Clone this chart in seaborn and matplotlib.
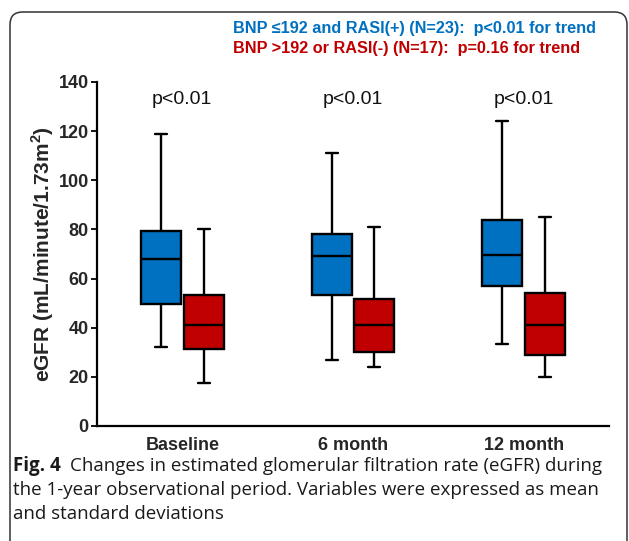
import numpy as np
import pandas as pd
import matplotlib
matplotlib.use("Agg")
import matplotlib.pyplot as plt
from matplotlib.patches import FancyBboxPatch
import seaborn as sns

# ---- data ----
timepoints = ["Baseline", "6 month", "12 month"]
groups = ["BNP \u2264192 and RASI(+)", "BNP >192 or RASI(-)"]
legend_lines = ["BNP \u2264192 and RASI(+) (N=23):  p<0.01 for trend",
                "BNP >192 or RASI(-) (N=17):  p=0.16 for trend"]
p_labels = ["p<0.01", "p<0.01", "p<0.01"]

blue_min = [32.0, 27.0, 33.5]
blue_q1 = [49.5, 53.5, 57.0]
blue_med = [68.0, 69.0, 69.5]
blue_q3 = [79.5, 78.0, 84.0]
blue_max = [119.0, 111.0, 124.0]

red_min = [17.5, 24.0, 20.0]
red_q1 = [31.5, 30.0, 29.0]
red_med = [41.0, 41.0, 41.0]
red_q3 = [53.5, 51.5, 54.0]
red_max = [80.0, 81.0, 85.0]

yticks = [0, 20, 40, 60, 80, 100, 120, 140]
ylabel = "eGFR (mL/minute/1.73m$^\\mathregular{2}$)"
caption_bold = "Fig. 4"
caption_lines = ["Changes in estimated glomerular filtration rate (eGFR) during",
                 "the 1-year observational period. Variables were expressed as mean",
                 "and standard deviations"]

colors = ["#0070C0", "#C00000"]

# ---- build long table: 5 summary points per box reproduce the quartiles exactly ----
rows = []
for gi, (mn, q1, md, q3, mx) in enumerate([(blue_min, blue_q1, blue_med, blue_q3, blue_max),
                                             (red_min, red_q1, red_med, red_q3, red_max)]):
    for ti, t in enumerate(timepoints):
        for v in (mn[ti], q1[ti], md[ti], q3[ti], mx[ti]):
            rows.append({"time": t, "group": groups[gi], "eGFR": v})
df = pd.DataFrame(rows)

sns.set_theme(style="ticks")
plt.rcParams["font.family"] = ["Liberation Sans", "DejaVu Sans"]

fig = plt.figure(figsize=(6.29, 5.41), dpi=100)
ax = fig.add_axes([97 / 629, 1 - 426 / 541, (609 - 97) / 629, (426 - 82) / 541])

sns.boxplot(data=df, x="time", y="eGFR", hue="group", order=timepoints, hue_order=groups,
            palette=colors, whis=(0, 100), width=0.5, gap=0.06, saturation=1,
            linecolor="black", linewidth=1.7, legend=False, ax=ax, capwidths=0.07,
            showfliers=False)

ax.set_xlim(-0.5, 2.5)
ax.set_ylim(0, 140)
ax.set_yticks(yticks)
ax.set_yticklabels([str(t) for t in yticks], fontsize=13, fontweight="bold")
ax.set_xticks(range(len(timepoints)))
ax.set_xticklabels(timepoints, fontsize=13, fontweight="bold")
ax.tick_params(axis="x", length=0, pad=8)
ax.tick_params(axis="y", length=4, width=1.3, pad=2, color="black")
ax.set_xlabel("")
ax.set_ylabel(ylabel, fontsize=15, fontweight="bold", labelpad=2)
for s in ["top", "right"]:
    ax.spines[s].set_visible(False)
for s in ["left", "bottom"]:
    ax.spines[s].set_linewidth(1.6)
    ax.spines[s].set_color("black")

for i, p in enumerate(p_labels):
    ax.text(i, 133, p, ha="center", va="center", fontsize=14, color="#111111")

# legend-like title lines
fig.text(233 / 629, 1 - 28 / 541, legend_lines[0], color=colors[0], fontsize=11.7,
         fontweight="bold", va="center", ha="left")
fig.text(233 / 629, 1 - 49 / 541, legend_lines[1], color=colors[1], fontsize=11.7,
         fontweight="bold", va="center", ha="left")

# caption
cap_font = ["Open Sans", "DejaVu Sans"]
cap_size = 13.5
fig.canvas.draw()
r = fig.canvas.get_renderer()
t0 = fig.text(13 / 629, 1 - 466 / 541, caption_bold, fontsize=cap_size, fontweight="bold",
              family=cap_font, va="center", ha="left", color="#1a1a1a")
bb = t0.get_window_extent(renderer=r)
fig.text((bb.x1 + 9) / 629, 1 - 466 / 541, caption_lines[0], fontsize=cap_size,
         family=cap_font, va="center", ha="left", color="#1a1a1a")
fig.text(13 / 629, 1 - 490 / 541, caption_lines[1], fontsize=cap_size,
         family=cap_font, va="center", ha="left", color="#1a1a1a")
fig.text(13 / 629, 1 - 514 / 541, caption_lines[2], fontsize=cap_size,
         family=cap_font, va="center", ha="left", color="#1a1a1a")

# rounded frame
frame = FancyBboxPatch((10 / 629, -20 / 541), (627 - 10) / 629, (541 - 12 + 20) / 541,
                       boxstyle="round,pad=0,rounding_size=0.02",
                       transform=fig.transFigure, fill=False, edgecolor="#333333",
                       linewidth=1.1, clip_on=False, mutation_aspect=629 / 541)
fig.patches.append(frame)

fig.savefig("out.png", dpi=100)
